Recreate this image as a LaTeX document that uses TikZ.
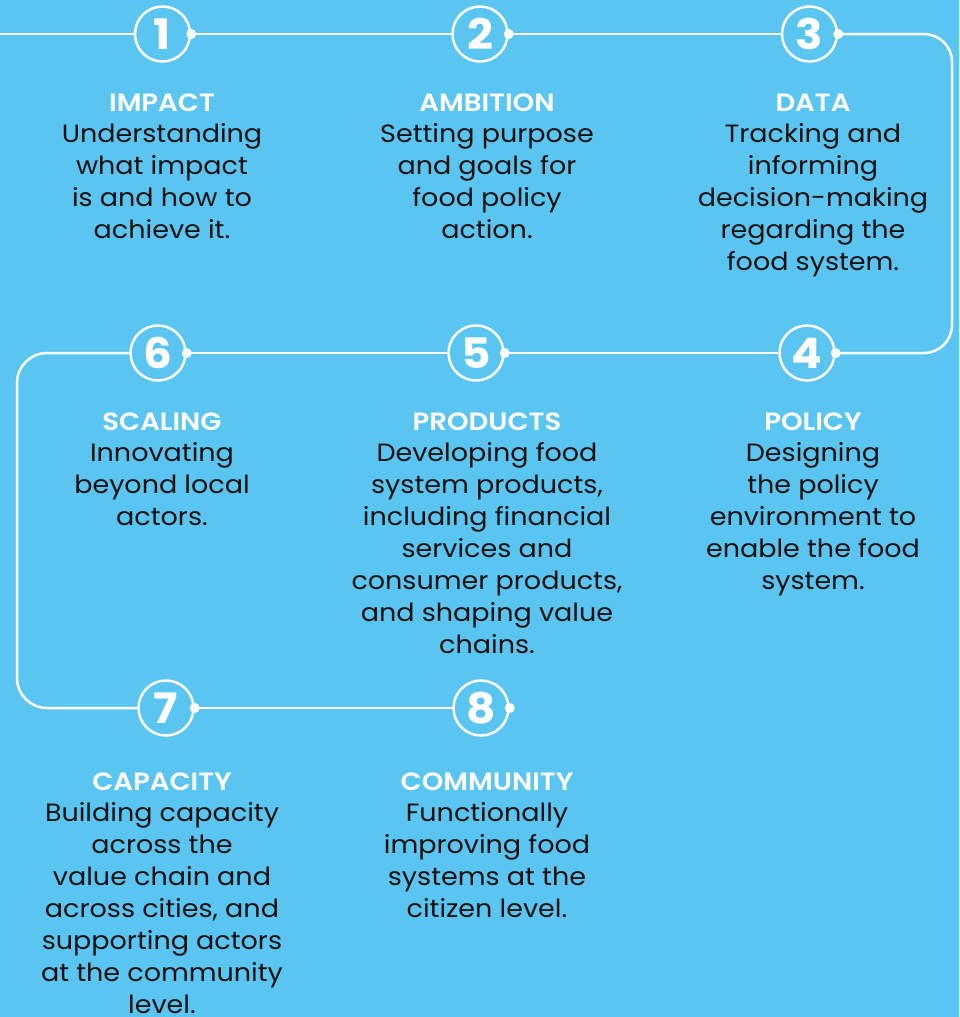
\documentclass[tikz,border=0pt]{standalone}
\usepackage{fontspec}
\setmainfont{Poppins}[FakeStretch=1.08]
\newfontfamily\ttlfont{Poppins SemiBold}[FakeStretch=1.1]
\definecolor{bg}{HTML}{5BC5F2}
\definecolor{bodyc}{HTML}{111111}
\begin{document}
\begin{tikzpicture}[x=1pt,y=-1pt,
  numc/.style={circle,draw=white,line width=2.5pt,fill=bg,minimum size=55pt,inner sep=0pt,
    text=white,font=\fontsize{42}{42}\selectfont\bfseries},
  conn/.style={draw=white,line width=2.5pt},
  dotc/.style={fill=white},
  ttl/.style={anchor=base,inner sep=0pt,text=white,font=\fontsize{25}{30}\ttlfont},
  bod/.style={anchor=base,inner sep=0pt,text=bodyc,font=\fontsize{25}{30}\selectfont}]
\fill[bg] (0,0) rectangle (959,1017);
\useasboundingbox (0,0) rectangle (959,1017);
% circles
\node[numc] (c1) at (162.5,34) {1};
\node[numc] (c2) at (480,34) {2};
\node[numc] (c3) at (809.5,34) {3};
\node[numc] (c4) at (807,353) {4};
\node[numc] (c5) at (476,353) {5};
\node[numc] (c6) at (158,353) {6};
\node[numc] (c7) at (166,708) {7};
\node[numc] (c8) at (481,708) {8};
% corner coordinates
\coordinate (start) at (0,34);
\coordinate (tr) at (952,34);
\coordinate (br) at (952,353);
\coordinate (ml) at (17,353);
\coordinate (bl) at (17,708);
% connectors
\draw[conn] (start) -- (c1.west);
\draw[conn] (c1.east) -- (c2.west);
\draw[conn] (c2.east) -- (c3.west);
\draw[conn,rounded corners=28pt] (c3.east) -- (tr) -- (br) -- (c4.east);
\draw[conn] (c4.west) -- (c5.east);
\draw[conn] (c5.west) -- (c6.east);
\draw[conn,rounded corners=30pt] (c6.west) -- (ml) -- (bl) -- (c7.west);
\draw[conn] (c7.east) -- (c8.west);
% dots
\foreach \c in {c1,c2,c3,c4,c5,c6,c7,c8}
  \fill[dotc] (\c.east) circle (5pt);
% texts row 1
\node[ttl] (t1) at (162,111) {IMPACT};
\foreach \s [count=\i] in {Understanding,what impact,is and how to,achieve it.}
  \node[bod] (b1-\i) at (162,142+32*\i-32) {\s};
\node[ttl] (t2) at (487,111) {AMBITION};
\foreach \s [count=\i] in {Setting purpose,and goals for,food policy,action.}
  \node[bod] (b2-\i) at (487,142+32*\i-32) {\s};
\node[ttl] (t3) at (813,111) {DATA};
\foreach \s [count=\i] in {Tracking and,informing,decision-making,regarding the,food system.}
  \node[bod] (b3-\i) at (813,142+32*\i-32) {\s};
% row 2
\node[ttl] (t6) at (162,430) {SCALING};
\foreach \s [count=\i] in {Innovating,beyond local,actors.}
  \node[bod] (b6-\i) at (162,461+32*\i-32) {\s};
\node[ttl] (t5) at (487,430) {PRODUCTS};
\foreach \s [count=\i] in {Developing food,{system products,},including financial,services and,{consumer products,},and shaping value,chains.}
  \node[bod] (b5-\i) at (487,461+32*\i-32) {\s};
\node[ttl] (t4) at (813,430) {POLICY};
\foreach \s [count=\i] in {Designing,the policy,environment to,enable the food,system.}
  \node[bod] (b4-\i) at (813,461+32*\i-32) {\s};
% row 3
\node[ttl] (t7) at (162,790) {CAPACITY};
\foreach \s [count=\i] in {Building capacity,across the,value chain and,{across cities, and},supporting actors,at the community,level.}
  \node[bod] (b7-\i) at (162,821+32*\i-32) {\s};
\node[ttl] (t8) at (487,790) {COMMUNITY};
\foreach \s [count=\i] in {Functionally,improving food,systems at the,citizen level.}
  \node[bod] (b8-\i) at (487,821+32*\i-32) {\s};
\end{tikzpicture}
\end{document}
